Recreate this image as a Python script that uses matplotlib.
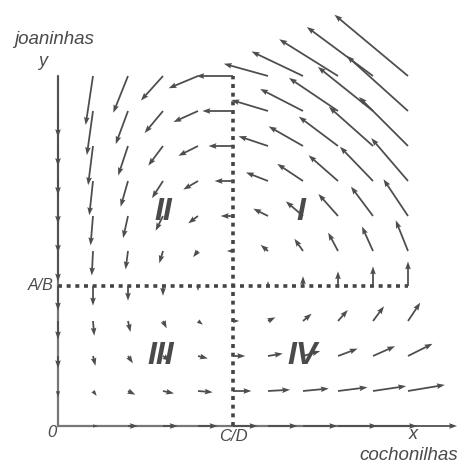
import numpy as np
import matplotlib
matplotlib.use("Agg")
import matplotlib.pyplot as plt

plt.rcParams["font.family"] = ["Liberation Sans", "DejaVu Sans"]

# Lotka-Volterra: dx/dt = x(A - B y), dy/dt = y(-C + D x)
A, B, C, D = 4.0, 1.0, 5.0, 1.0
arrow_scale = 0.035

grid_x = [0, 1, 2, 3, 4, 5, 6, 7, 8, 9, 10]
grid_y = [0, 1, 2, 3, 4, 5, 6, 7, 8, 9, 10]

quadrant_names = ["I", "II", "III", "IV"]
quadrant_pos = [(6.95, 6.1), (3.0, 6.1), (2.95, 2.0), (7.0, 2.0)]

X, Y = np.meshgrid(np.array(grid_x, float), np.array(grid_y, float))
U = X * (A - B * Y)
V = Y * (-C + D * X)
moving = (U != 0) | (V != 0)

fig = plt.figure(figsize=(4.66, 4.66), dpi=100)
ax = fig.add_axes([0, 0, 1, 1])
ax.set_xlim(-58 / 35, (466 - 58) / 35)
ax.set_ylim((426 - 466) / 35, 426 / 35)
ax.axis("off")

grey = "#4d4d4d"
txt = "#4a4a4a"

# axes
ax.plot([0, 0], [0, 10], color="#777777", lw=1.6, zorder=1)
ax.plot([0, 10], [0, 0], color="#777777", lw=1.6, zorder=1)

# nullclines through the equilibrium
xe, ye = C / D, A / B
ax.plot([xe, xe], [0, 10], color="#444444", lw=2.6, dashes=(1.1, 1.3), zorder=2)
ax.plot([0, 10], [ye, ye], color="#444444", lw=2.6, dashes=(1.1, 1.3), zorder=2)

ax.quiver(X[moving], Y[moving], U[moving], V[moving],
          angles="xy", scale_units="xy", scale=1 / arrow_scale,
          color=grey, width=0.0038, headwidth=3.2, headlength=4.5,
          headaxislength=4, zorder=3)

for name, (qx, qy) in zip(quadrant_names, quadrant_pos):
    ax.text(qx, qy, name, fontsize=23, fontweight="bold", style="italic",
            color="#4a4a4a", ha="center", va="center", zorder=4)

ax.text(-1.25, 11.03, "joaninhas", fontsize=13.5, style="italic", color=txt,
        ha="left", va="center")
ax.text(-0.45, 10.42, "y", fontsize=13, style="italic", color=txt,
        ha="center", va="center")
ax.text(-0.12, ye, "A/B", fontsize=11.5, style="italic", color=txt,
        ha="right", va="center")
ax.text(-0.18, -0.18, "0", fontsize=12, style="italic", color=txt,
        ha="center", va="center")
ax.text(xe, -0.3, "C/D", fontsize=12, style="italic", color=txt,
        ha="center", va="center")
ax.text(10.15, -0.25, "x", fontsize=13, style="italic", color=txt,
        ha="center", va="center")
ax.text(8.6, -1.1, "cochonilhas", fontsize=13.5, style="italic", color=txt,
        ha="left", va="bottom")

fig.savefig("out.png", dpi=100)
